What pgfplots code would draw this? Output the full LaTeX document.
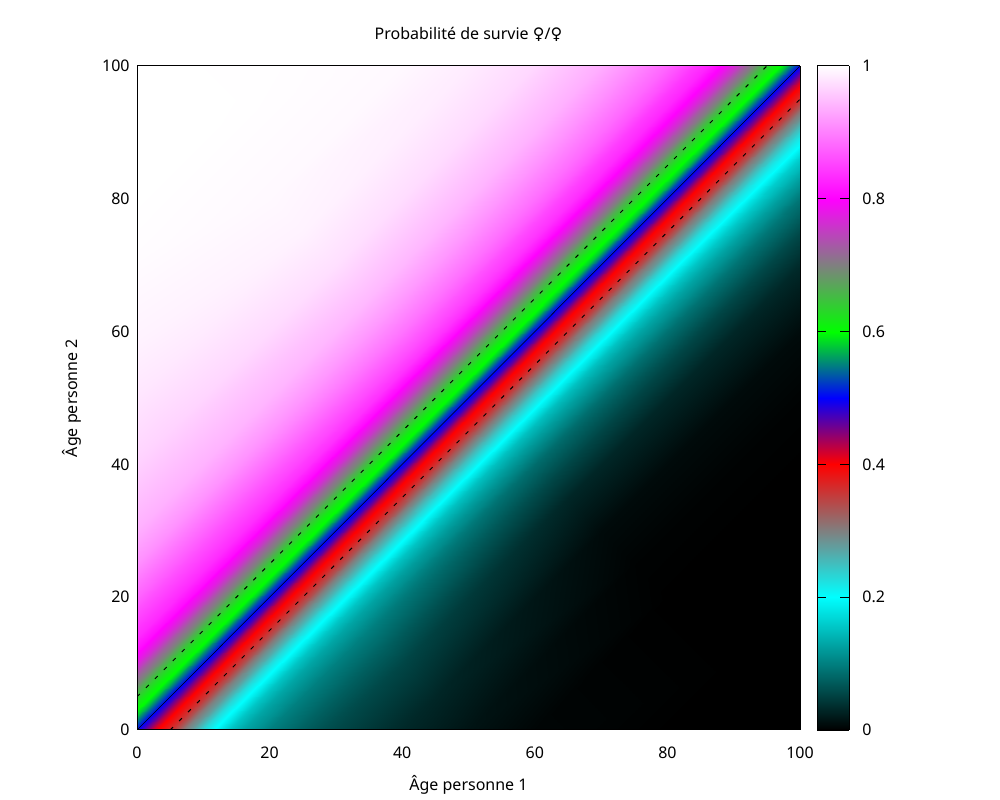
\documentclass[border=0pt]{standalone}
\usepackage{fontspec}
\setmainfont{Noto Sans}
\newfontfamily\symfont{DejaVu Sans}
\usepackage{pgfplots}
\usepackage{pgfplotstable}
\pgfplotsset{compat=1.18}
\usepgfplotslibrary{patchplots}
\pgfplotstableread{
x y v
-50 50 1.0
-25 75 1.0
0 100 1.0
25 125 1.0
50 150 1.0

-40 40 1.0
-15 65 1.0
10 90 1.0
35 115 .998
60 140 .995

-30 30 .99
-5 55 .99
20 80 .995
45 105 .995
70 130 .99

-25 25 .98
0 50 .98
25 75 .99
50 100 .985
75 125 .98

-20 20 .96
5 45 .965
30 70 .975
55 95 .97
80 120 .965

-15 15 .935
10 40 .94
35 65 .945
60 90 .94
85 115 .93

-12.5 12.5 .91
12.5 37.5 .915
37.5 62.5 .92
62.5 87.5 .915
87.5 112.5 .905

-10 10 .875
15 35 .88
40 60 .89
65 85 .885
90 110 .875

-9 9 .86
16 34 .865
41 59 .875
66 84 .87
91 109 .86

-8 8 .845
17 33 .85
42 58 .86
67 83 .85
92 108 .84

-7 7 .83
18 32 .835
43 57 .84
68 82 .835
93 107 .825

-6 6 .81
19 31 .81
44 56 .81
69 81 .81
94 106 .80

-5.5 5.5 .79
19.5 30.5 .79
44.5 55.5 .79
69.5 80.5 .79
94.5 105.5 .785

-5 5 .77
20 30 .77
45 55 .77
70 80 .77
95 105 .765

-4.5 4.5 .745
20.5 29.5 .745
45.5 54.5 .745
70.5 79.5 .745
95.5 104.5 .745

-4 4 .72
21 29 .72
46 54 .72
71 79 .72
96 104 .72

-3.5 3.5 .695
21.5 28.5 .695
46.5 53.5 .695
71.5 78.5 .695
96.5 103.5 .695

-3 3 .665
22 28 .665
47 53 .665
72 78 .665
97 103 .665

-2.5 2.5 .64
22.5 27.5 .64
47.5 52.5 .64
72.5 77.5 .64
97.5 102.5 .64

-2 2 .615
23 27 .615
48 52 .615
73 77 .615
98 102 .615

-1.5 1.5 .60
23.5 26.5 .60
48.5 51.5 .60
73.5 76.5 .60
98.5 101.5 .60

-1 1 .575
24 26 .575
49 51 .575
74 76 .575
99 101 .575

-.5 .5 .53
24.5 25.5 .53
49.5 50.5 .53
74.5 75.5 .53
99.5 100.5 .53

0 0 .5
25 25 .5
50 50 .5
75 75 .5
100 100 .5

.5 -.5 .47
25.5 24.5 .47
50.5 49.5 .47
75.5 74.5 .47
100.5 99.5 .47

1 -1 .425
26 24 .425
51 49 .425
76 74 .425
101 99 .425

1.5 -1.5 .40
26.5 23.5 .40
51.5 48.5 .40
76.5 73.5 .40
101.5 98.5 .40

2 -2 .385
27 23 .385
52 48 .385
77 73 .385
102 98 .385

2.5 -2.5 .36
27.5 22.5 .36
52.5 47.5 .36
77.5 72.5 .36
102.5 97.5 .36

3 -3 .335
28 22 .335
53 47 .335
78 72 .335
103 97 .335

3.5 -3.5 .305
28.5 21.5 .305
53.5 46.5 .305
78.5 71.5 .305
103.5 96.5 .305

4 -4 .28
29 21 .28
54 46 .28
79 71 .28
104 96 .28

4.5 -4.5 .255
29.5 20.5 .255
54.5 45.5 .255
79.5 70.5 .255
104.5 95.5 .255

5 -5 .23
30 20 .23
55 45 .23
80 70 .23
105 95 .235

5.5 -5.5 .21
30.5 19.5 .21
55.5 44.5 .21
80.5 69.5 .21
105.5 94.5 .215

6 -6 .19
31 19 .19
56 44 .19
81 69 .19
106 94 .20

7 -7 .155
32 18 .155
57 43 .15
82 68 .155
107 93 .165

8 -8 .13
33 17 .13
58 42 .125
83 67 .13
108 92 .14

9 -9 .115
34 16 .115
59 41 .105
84 66 .11
109 91 .115

10 -10 .10
35 15 .10
60 40 .085
85 65 .09
110 90 .095

12.5 -12.5 .075
37.5 12.5 .075
62.5 37.5 .055
87.5 62.5 .055
112.5 87.5 .06

15 -15 .06
40 10 .055
65 35 .03
90 60 .03
115 85 .035

20 -20 .04
45 5 .03
70 30 .008
95 55 .008
120 80 .01

25 -25 .02
50 0 .015
75 25 .002
100 50 .002
125 75 .002

30 -30 .01
55 -5 .005
80 20 0
105 45 0
130 70 0

40 -40 0
65 -15 0
90 10 0
115 35 0
140 60 0

50 -50 0
75 -25 0
100 0 0
125 25 0
150 50 0
}\survie
\pgfplotstableread{
x y v
0 0 0
1 0 0

0 .2 .2
1 .2 .2

0 .3 .3
1 .3 .3

0 .4 .4
1 .4 .4

0 .5 .5
1 .5 .5

0 .6 .6
1 .6 .6

0 .7 .7
1 .7 .7

0 .8 .8
1 .8 .8

0 1 1
1 1 1
}\barre
\pgfplotsset{
  colormap={sv}{rgb(0pt)=(0,0,0); rgb(20pt)=(0,1,1); rgb(30pt)=(.5,.5,.5); rgb(40pt)=(1,0,0); rgb(50pt)=(0,0,1); rgb(60pt)=(0,1,0); rgb(70pt)=(.5,.5,.5); rgb(80pt)=(1,0,1); rgb(100pt)=(1,1,1)},
  every axis/.append style={font=\fontsize{12pt}{14pt}\selectfont, /pgf/number format/assume math mode=true},
}
\begin{document}
\begin{tikzpicture}
\path[use as bounding box] (0pt,0pt) rectangle (750pt,600pt);
\begin{axis}[
  at={(102.75pt,52.5pt)}, anchor=south west,
  scale only axis, width=497.25pt, height=498pt,
  view={0}{90},
  xmin=0, xmax=100, ymin=0, ymax=100,
  point meta min=0, point meta max=1,
  xtick={0,20,...,100}, ytick={0,20,...,100},
  major tick length=0pt,
  xticklabel style={yshift=-9pt}, yticklabel style={xshift=-2pt},
  axis line style={line width=.75pt},
  title={Probabilité de survie {\symfont ♀}/{\symfont ♀}},
  title style={at={(axis description cs:.5,1)}, anchor=center, yshift=18pt},
  xlabel={Âge personne 1},
  xlabel style={at={(axis description cs:.5,0)}, anchor=center, yshift=-41.25pt},
  ylabel={Âge personne 2},
  ylabel style={at={(axis description cs:0,.5)}, anchor=center, yshift=48.75pt},
  axis on top,
]
\addplot3[surf, shader=interp, mesh/rows=47, mesh/cols=5, point meta=\thisrow{v}] table[x=x,y=y,z=v] {\survie};
\addplot3[black, line width=.4pt] coordinates {(0,0,1) (100,100,1)};
\addplot3[black, line width=.7pt, dash pattern=on 3pt off 6.5pt] coordinates {(0,5,1) (95,100,1)};
\addplot3[black, line width=.7pt, dash pattern=on 3pt off 6.5pt] coordinates {(5,0,1) (100,95,1)};
\end{axis}
\begin{axis}[
  at={(612.75pt,52.5pt)}, anchor=south west,
  scale only axis, width=24pt, height=498pt,
  view={0}{90},
  xmin=0, xmax=1, ymin=0, ymax=1,
  point meta min=0, point meta max=1,
  xtick=\empty, ytick={.2,.4,.6,.8},
  yticklabels={0.2,0.4,0.6,0.8},
  extra y ticks={0,1}, extra y tick labels={0,1},
  extra y tick style={major tick length=0pt},
  ytick pos=both, yticklabel pos=right,
  tick align=inside, major tick length=6.5pt,
  tick style={black, line width=.6pt},
  yticklabel style={xshift=6.5pt},
  axis line style={line width=.75pt},
  axis on top,
]
\addplot3[surf, shader=interp, mesh/rows=9, mesh/cols=2, point meta=\thisrow{v}] table[x=x,y=y,z=v] {\barre};
\end{axis}
\end{tikzpicture}
\end{document}
